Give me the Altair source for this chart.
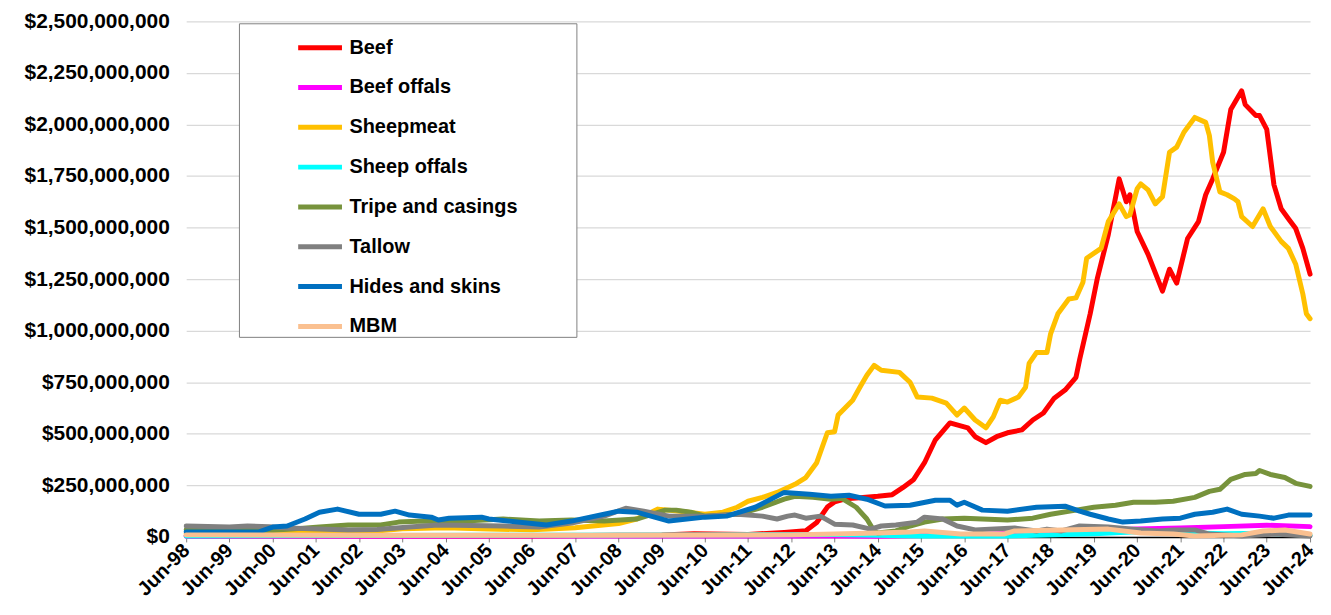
import altair as alt
import pandas as pd

# ---- data (values in $ millions) ----
series_names = ["Beef", "Beef offals", "Sheepmeat", "Sheep offals",
                "Tripe and casings", "Tallow", "Hides and skins", "MBM"]
series_colors = ["#FF0000", "#FF00FF", "#FFC000", "#00FFFF",
                 "#77933C", "#808080", "#0070C0", "#FAC090"]

beef_dates = ["1998-06", "2002-06", "2006-06", "2008-06", "2009-06", "2010-03", "2011-06", "2012-04",
              "2012-10", "2013-01", "2013-04", "2013-06", "2013-09", "2014-01", "2014-06", "2014-10",
              "2015-01", "2015-04", "2015-07", "2015-10", "2016-02", "2016-04", "2016-07", "2016-09",
              "2016-12", "2017-03", "2017-06", "2017-10", "2018-01", "2018-04", "2018-07", "2018-10",
              "2019-01", "2019-02", "2019-05", "2019-07", "2019-10", "2020-01", "2020-03", "2020-04",
              "2020-06", "2020-09", "2021-01", "2021-03", "2021-05", "2021-08", "2021-11", "2022-01",
              "2022-03", "2022-06", "2022-08", "2022-11", "2022-12", "2023-03", "2023-04", "2023-06",
              "2023-08", "2023-10", "2023-12", "2024-02", "2024-04", "2024-06"]
beef_vals = [5, 4, 5, 8, 10, 15, 12, 22,
             30, 70, 145, 170, 185, 190, 197, 205,
             240, 279, 360, 471, 553, 543, 529, 486,
             457, 486, 505, 519, 567, 601, 673, 712,
             774, 860, 1082, 1255, 1466, 1736, 1625, 1659,
             1481, 1370, 1192, 1298, 1231, 1447, 1529, 1659,
             1736, 1865, 2072, 2163, 2096, 2043, 2043, 1976,
             1707, 1591, 1543, 1495, 1399, 1274]

beef_offals_dates = ["1998-06", "2003-06", "2008-06", "2013-06", "2014-06", "2016-06", "2018-06",
                     "2019-06", "2020-06", "2021-06", "2022-06", "2023-06", "2024-06"]
beef_offals_vals = [3, 3, 5, 5, 3, 10, 25, 30, 38, 43, 50, 57, 50]

sheepmeat_dates = ["1998-06", "1999-06", "2000-06", "2001-01", "2001-06", "2002-06", "2003-06", "2004-06",
                   "2005-06", "2006-06", "2007-06", "2008-06", "2008-11", "2009-05", "2009-11", "2010-06",
                   "2010-11", "2011-03", "2011-06", "2011-10", "2012-02", "2012-07", "2012-10", "2013-01",
                   "2013-04", "2013-06", "2013-07", "2013-11", "2014-01", "2014-03", "2014-05", "2014-07",
                   "2014-12", "2015-03", "2015-05", "2015-09", "2016-01", "2016-04", "2016-06", "2016-09",
                   "2016-12", "2017-02", "2017-04", "2017-06", "2017-09", "2017-11", "2017-12", "2018-02",
                   "2018-05", "2018-06", "2018-08", "2018-11", "2019-01", "2019-03", "2019-04", "2019-08",
                   "2019-10", "2020-01", "2020-03", "2020-04", "2020-06", "2020-07", "2020-09", "2020-11",
                   "2021-01", "2021-03", "2021-05", "2021-07", "2021-10", "2022-01", "2022-02", "2022-03",
                   "2022-05", "2022-07", "2022-09", "2022-10", "2022-11", "2023-02", "2023-05", "2023-07",
                   "2023-10", "2023-12", "2024-02", "2024-04", "2024-05", "2024-06"]
sheepmeat_vals = [15, 12, 15, 20, 18, 22, 40, 45,
                  38, 35, 45, 65, 87, 135, 125, 110,
                  120, 144, 173, 192, 216, 255, 288, 360,
                  505, 510, 591, 663, 726, 784, 832, 808,
                  798, 750, 678, 673, 649, 591, 625, 567,
                  529, 582, 663, 654, 678, 726, 841, 894,
                  894, 986, 1082, 1154, 1159, 1235, 1351, 1399,
                  1529, 1615, 1553, 1562, 1688, 1712, 1683, 1615,
                  1649, 1865, 1890, 1962, 2034, 2010, 1947, 1817,
                  1673, 1659, 1639, 1625, 1553, 1505, 1591, 1505,
                  1433, 1399, 1322, 1178, 1082, 1058]

sheep_offals_dates = ["1998-06", "2005-06", "2010-06", "2013-06", "2015-06", "2017-06", "2019-06",
                      "2020-06", "2021-06", "2022-06", "2023-06", "2024-06"]
sheep_offals_vals = [5, 8, 10, 12, 5, 5, 15, 25, 20, 15, 18, 8]

tripe_dates = ["1998-06", "1999-06", "2000-06", "2000-11", "2001-07", "2002-03", "2002-12", "2003-05",
               "2003-12", "2004-06", "2005-10", "2006-08", "2007-05", "2008-02", "2008-11", "2009-07",
               "2009-10", "2010-02", "2010-06", "2011-03", "2011-10", "2012-04", "2012-07", "2012-12",
               "2013-05", "2013-08", "2013-12", "2014-03", "2014-05", "2014-06", "2014-11", "2015-03",
               "2015-07", "2015-12", "2016-06", "2016-11", "2017-06", "2018-01", "2018-06", "2019-01",
               "2019-06", "2019-12", "2020-05", "2020-11", "2021-04", "2021-10", "2022-02", "2022-05",
               "2022-08", "2022-12", "2023-03", "2023-04", "2023-07", "2023-11", "2024-02", "2024-06"]
tripe_vals = [35, 32, 32, 38, 48, 58, 58, 72,
              77, 72, 87, 77, 82, 77, 87, 130,
              130, 120, 101, 110, 144, 183, 197, 192,
              183, 187, 144, 87, 29, 19, 29, 53,
              72, 87, 91, 87, 82, 91, 110, 130,
              144, 154, 168, 168, 173, 192, 221, 231,
              279, 303, 308, 322, 303, 288, 260, 245]

tallow_dates = ["1998-06", "1999-06", "1999-11", "2000-05", "2000-10", "2001-07", "2002-03", "2002-11",
                "2003-08", "2004-04", "2005-10", "2006-08", "2007-05", "2008-02", "2008-08", "2009-01",
                "2009-08", "2010-06", "2011-03", "2011-10", "2012-02", "2012-05", "2012-07", "2012-10",
                "2013-02", "2013-06", "2013-11", "2014-04", "2014-07", "2014-11", "2015-05", "2015-07",
                "2015-12", "2016-04", "2016-09", "2017-01", "2017-08", "2018-02", "2018-05", "2018-09",
                "2019-02", "2019-10", "2020-05", "2020-12", "2021-04", "2021-10", "2022-02", "2022-11",
                "2023-08", "2024-06"]
tallow_vals = [53, 48, 53, 50, 43, 38, 34, 36,
               48, 58, 53, 48, 67, 101, 139, 125,
               101, 101, 110, 101, 87, 101, 106, 91,
               101, 62, 58, 38, 53, 58, 72, 96,
               87, 53, 34, 38, 43, 29, 38, 29,
               53, 48, 38, 29, 34, 34, 14, 5,
               14, 5]

hides_dates = ["1998-06", "1999-06", "2000-02", "2000-06", "2000-10", "2001-03", "2001-07", "2001-12",
               "2002-06", "2002-12", "2003-04", "2003-08", "2004-02", "2004-04", "2004-07", "2005-04",
               "2005-06", "2006-10", "2007-05", "2008-02", "2008-06", "2008-11", "2009-08", "2010-06",
               "2010-12", "2011-08", "2012-04", "2012-11", "2013-05", "2013-10", "2014-03", "2014-08",
               "2015-03", "2015-10", "2016-02", "2016-04", "2016-06", "2016-11", "2017-06", "2018-02",
               "2018-10", "2019-02", "2019-05", "2019-10", "2020-02", "2020-07", "2021-01", "2021-06",
               "2021-10", "2022-03", "2022-07", "2022-11", "2023-04", "2023-08", "2023-12", "2024-06"]
hides_vals = [24, 24, 24, 48, 53, 87, 120, 135,
              110, 110, 125, 106, 96, 82, 91, 96,
              87, 58, 77, 110, 125, 120, 77, 96,
              101, 144, 216, 207, 197, 202, 183, 150,
              154, 178, 178, 154, 168, 130, 125, 144,
              149, 125, 110, 87, 72, 77, 87, 91,
              110, 120, 135, 110, 101, 91, 106, 106]

mbm_dates = ["1998-06", "2002-06", "2008-06", "2012-06", "2014-06", "2015-03", "2015-07", "2016-05",
             "2017-05", "2017-08", "2018-09", "2019-10", "2020-07", "2021-04", "2021-10", "2022-11",
             "2023-05", "2023-11", "2024-06"]
mbm_vals = [10, 8, 8, 10, 19, 24, 29, 14,
            14, 29, 34, 38, 19, 14, 5, 10,
            29, 34, 14]

tick_years = list(range(1998, 2025))
y_ticks = [i * 250_000_000 for i in range(11)]

# ---- build table ----
all_series = [
    (beef_dates, beef_vals), (beef_offals_dates, beef_offals_vals),
    (sheepmeat_dates, sheepmeat_vals), (sheep_offals_dates, sheep_offals_vals),
    (tripe_dates, tripe_vals), (tallow_dates, tallow_vals),
    (hides_dates, hides_vals), (mbm_dates, mbm_vals),
]
rows = []
for name, (dts, vals) in zip(series_names, all_series):
    for d, v in zip(dts, vals):
        rows.append({"Series": name, "Date": pd.Timestamp(d + "-01"), "Value": v * 1_000_000})
df = pd.DataFrame(rows)

FONT = "Liberation Sans"

chart = alt.Chart(df).mark_line(strokeWidth=5, strokeJoin="round", strokeCap="round").encode(
    x=alt.X("Date:T",
            scale=alt.Scale(domain=[alt.DateTime(year=1998, month=6, date=1),
                                    alt.DateTime(year=2024, month=6, date=1)]),
            axis=alt.Axis(title=None, format="%b-%y", labelAngle=-45, labelAlign="right",
                          labelBaseline="middle", labelFontSize=20, labelFontWeight="bold",
                          labelFont=FONT, labelColor="black", labelPadding=5,
                          values=[alt.DateTime(year=y, month=6, date=1) for y in tick_years],
                          grid=False, domainColor="black", domainWidth=1.5,
                          tickColor="#808080", tickSize=5, labelOverlap=False, labelFlush=False)),
    y=alt.Y("Value:Q",
            scale=alt.Scale(domain=[0, 2_500_000_000], nice=False),
            axis=alt.Axis(title=None, format="$,.0f", values=y_ticks, labelFontSize=21,
                          labelFontWeight="bold", labelFont=FONT, labelColor="black",
                          labelPadding=17, ticks=False, domain=False, grid=True,
                          gridColor="#d9d9d9", gridWidth=1.3)),
    color=alt.Color("Series:N",
                    scale=alt.Scale(domain=series_names, range=series_colors),
                    legend=alt.Legend(orient="none", legendX=53, legendY=2, title=" ",
                                      titleOrient="right", titlePadding=59,
                                      symbolType="stroke", symbolSize=1936, symbolStrokeWidth=5,
                                      symbolOffset=57, labelOffset=5,
                                      labelFontSize=20, labelFontWeight="bold", labelFont=FONT,
                                      labelColor="black", rowPadding=5, padding=0,
                                      fillColor="white", strokeColor="#808080",
                                      labelLimit=400)),
).properties(
    width=1129, height=518,
    autosize=alt.AutoSizeParams(type="none"),
    padding={"left": 179, "top": 12, "right": 13, "bottom": 67},
).configure_view(stroke=None)

chart.save("out.html", embed_options={"renderer": "svg", "actions": False})
